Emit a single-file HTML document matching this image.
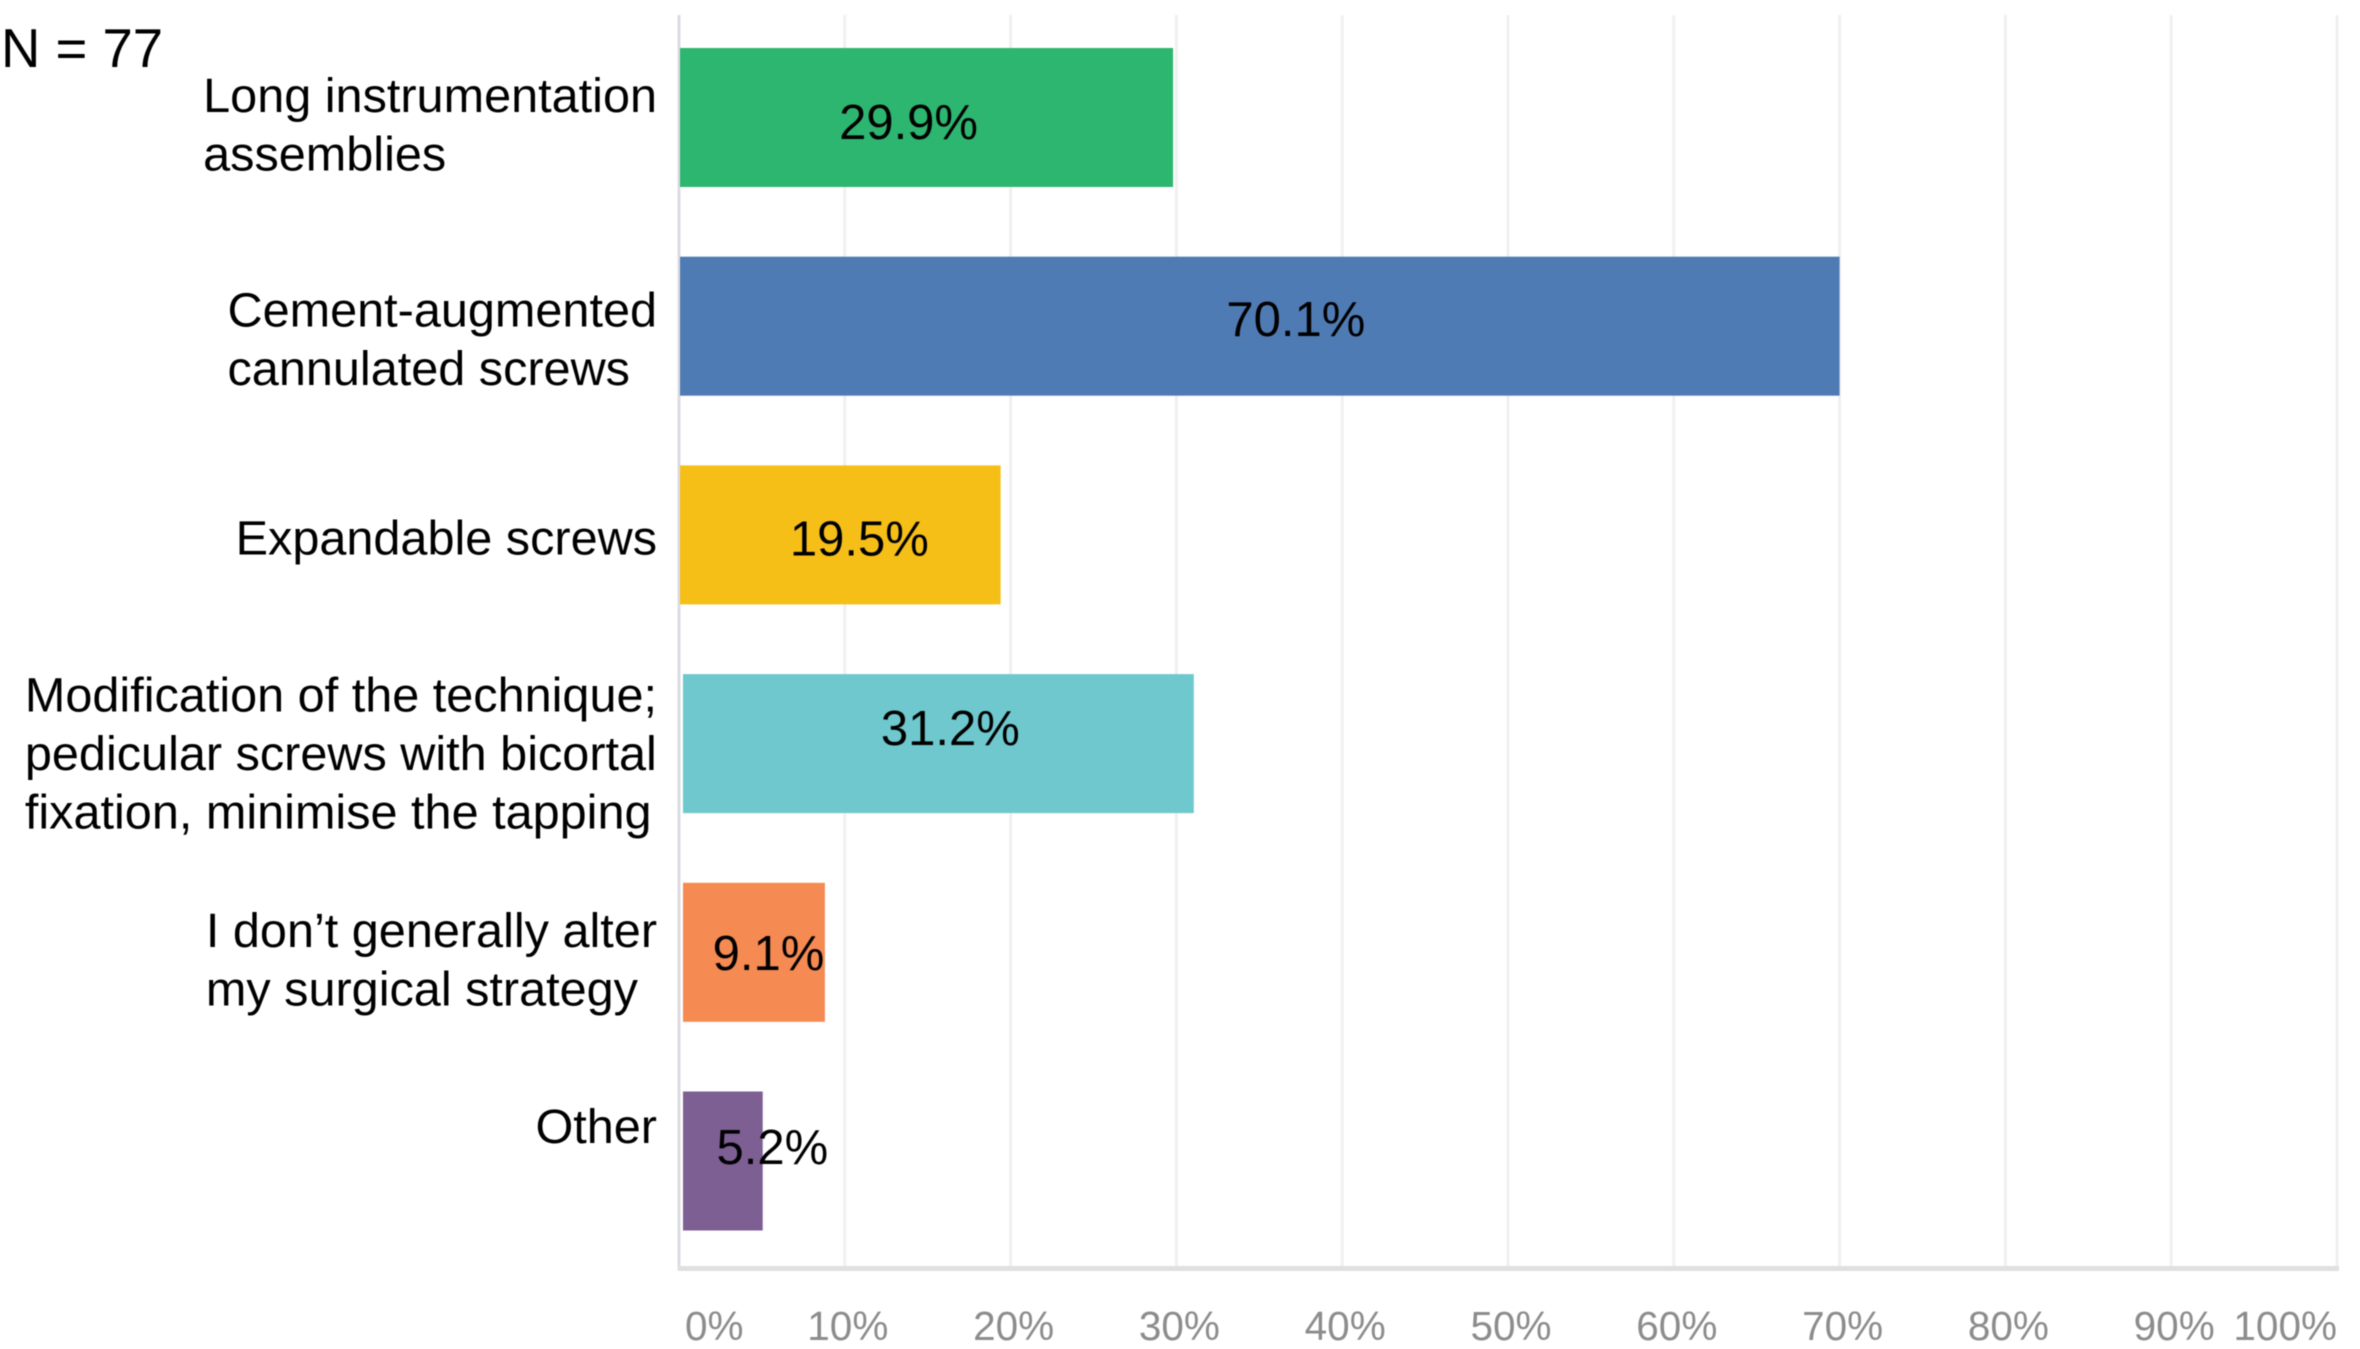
<!DOCTYPE html>
<html lang="en">
<head>
<meta charset="utf-8">
<title>Surgical strategy bar chart</title>
<style>
html,body{margin:0;padding:0;background:#fff;}
body{width:2360px;height:1349px;overflow:hidden;}
svg{display:block;font-family:"Liberation Sans",Arial,sans-serif;filter:blur(0.6px);}
</style>
</head>
<body>
<svg id="chart" width="2360" height="1349" viewBox="0 0 2360 1349" xmlns="http://www.w3.org/2000/svg">
  <text x="1" y="67" font-size="54.5" fill="#000">N = 77</text>
  <g id="grid"></g>
  <g id="axes"></g>
  <g id="bars"></g>
  <g id="cats"></g>
  <g id="vals"></g>
  <g id="ticks"></g>
</svg>
<script>
const categories = [
  ["Long instrumentation", "assemblies"],
  ["Cement-augmented", "cannulated screws"],
  ["Expandable screws"],
  ["Modification of the technique;", "pedicular screws with bicortal", "fixation, minimise the tapping"],
  ["I don\u2019t generally alter", "my surgical strategy"],
  ["Other"]
];
const barLengths = [29.8, 70.0, 19.4, 31.05, 8.8, 5.05];
const printedLabels = ["29.9%", "70.1%", "19.5%", "31.2%", "9.1%", "5.2%"];
const barColors = ["#2db66f", "#4f7bb5", "#f6bf17", "#6ec8ce", "#f58a52", "#7d5f94"];
const tickValues = [0, 10, 20, 30, 40, 50, 60, 70, 80, 90, 100];
const tickLabels = ["0%", "10%", "20%", "30%", "40%", "50%", "60%", "70%", "80%", "90%", "100%"];

const NS = "http://www.w3.org/2000/svg";
function xScale(v) { return 679 + 16.58 * v; }
function rowCenter(i) { return 117.5 + i * 208.7; }
function make(tag, parent, attrs) {
  const el = document.createElementNS(NS, tag);
  for (const k in attrs) el.setAttribute(k, attrs[k]);
  parent.appendChild(el);
  return el;
}

function draw() {
  const gridG = document.getElementById("grid");
  const axesG = document.getElementById("axes");
  const barsG = document.getElementById("bars");
  const catsG = document.getElementById("cats");
  const valsG = document.getElementById("vals");
  const ticksG = document.getElementById("ticks");

  // per-row layout nudges seen in the reference (not data)
  const startNudge = [1, 1, 1, 4, 4, 4];
  const labelNudgeX = [-18, 36, 19, 12, 14.5, 49.5];
  const labelNudgeY = [21.5, 10, 20.5, 1.5, 17.5, 3];
  const catFirstBaseline = [-5.5, 0.5, 19.5, -32, -5.5, -18];
  const catLineGap = 58.5;
  const catRight = 657;

  tickValues.forEach(function (v, i) {
    if (v === 0) return;
    const line = make("line", gridG, {x1: xScale(v), x2: xScale(v), y1: 15, y2: 1267, stroke: "#f0f0f0", "stroke-width": 3});
    
    
  });

  const yAxis = make("line", axesG, {x1: 679, x2: 679, y1: 15, y2: 1270, stroke: "#dadde2", "stroke-width": 3});
  
  
  const xAxis = make("line", axesG, {x1: 678, x2: 2339, y1: 1268.5, y2: 1268.5, stroke: "#e0e0e0", "stroke-width": 5});
  
  

  barLengths.forEach(function (v, i) {
    const x0 = xScale(0) + startNudge[i];
    const bar = make("rect", barsG, {x: x0, y: rowCenter(i) - 69.5, width: xScale(v) - x0, height: 139, fill: barColors[i]});
    
    
  });

  categories.forEach(function (lines, i) {
    const nodes = lines.map(function (line, j) {
      const t = make("text", catsG, {y: rowCenter(i) + catFirstBaseline[i] + j * catLineGap, "font-size": 48.6, fill: "#000"});
      t.textContent = line;
      
      
      return t;
    });
    const maxW = Math.max.apply(null, nodes.map(function (n) { return n.getComputedTextLength(); }));
    nodes.forEach(function (n) { n.setAttribute("x", catRight - maxW); });
  });

  printedLabels.forEach(function (s, i) {
    const x0 = xScale(0) + startNudge[i];
    const center = (x0 + xScale(barLengths[i])) / 2;
    const t = make("text", valsG, {x: center + labelNudgeX[i], y: rowCenter(i) + labelNudgeY[i], "font-size": 49, "text-anchor": "middle", fill: "#000"});
    t.textContent = s;
    
    
  });

  tickLabels.forEach(function (s, i) {
    const t = make("text", ticksG, {y: 1340, "font-size": 40.5, fill: "#8c8c8c"});
    t.textContent = s;
    
    
    const w = t.getComputedTextLength();
    const left = Math.min(2337 - w, Math.max(685, xScale(tickValues[i]) + 3 - w / 2));
    t.setAttribute("x", left);
  });
}
draw();
</script>
</body>
</html>
